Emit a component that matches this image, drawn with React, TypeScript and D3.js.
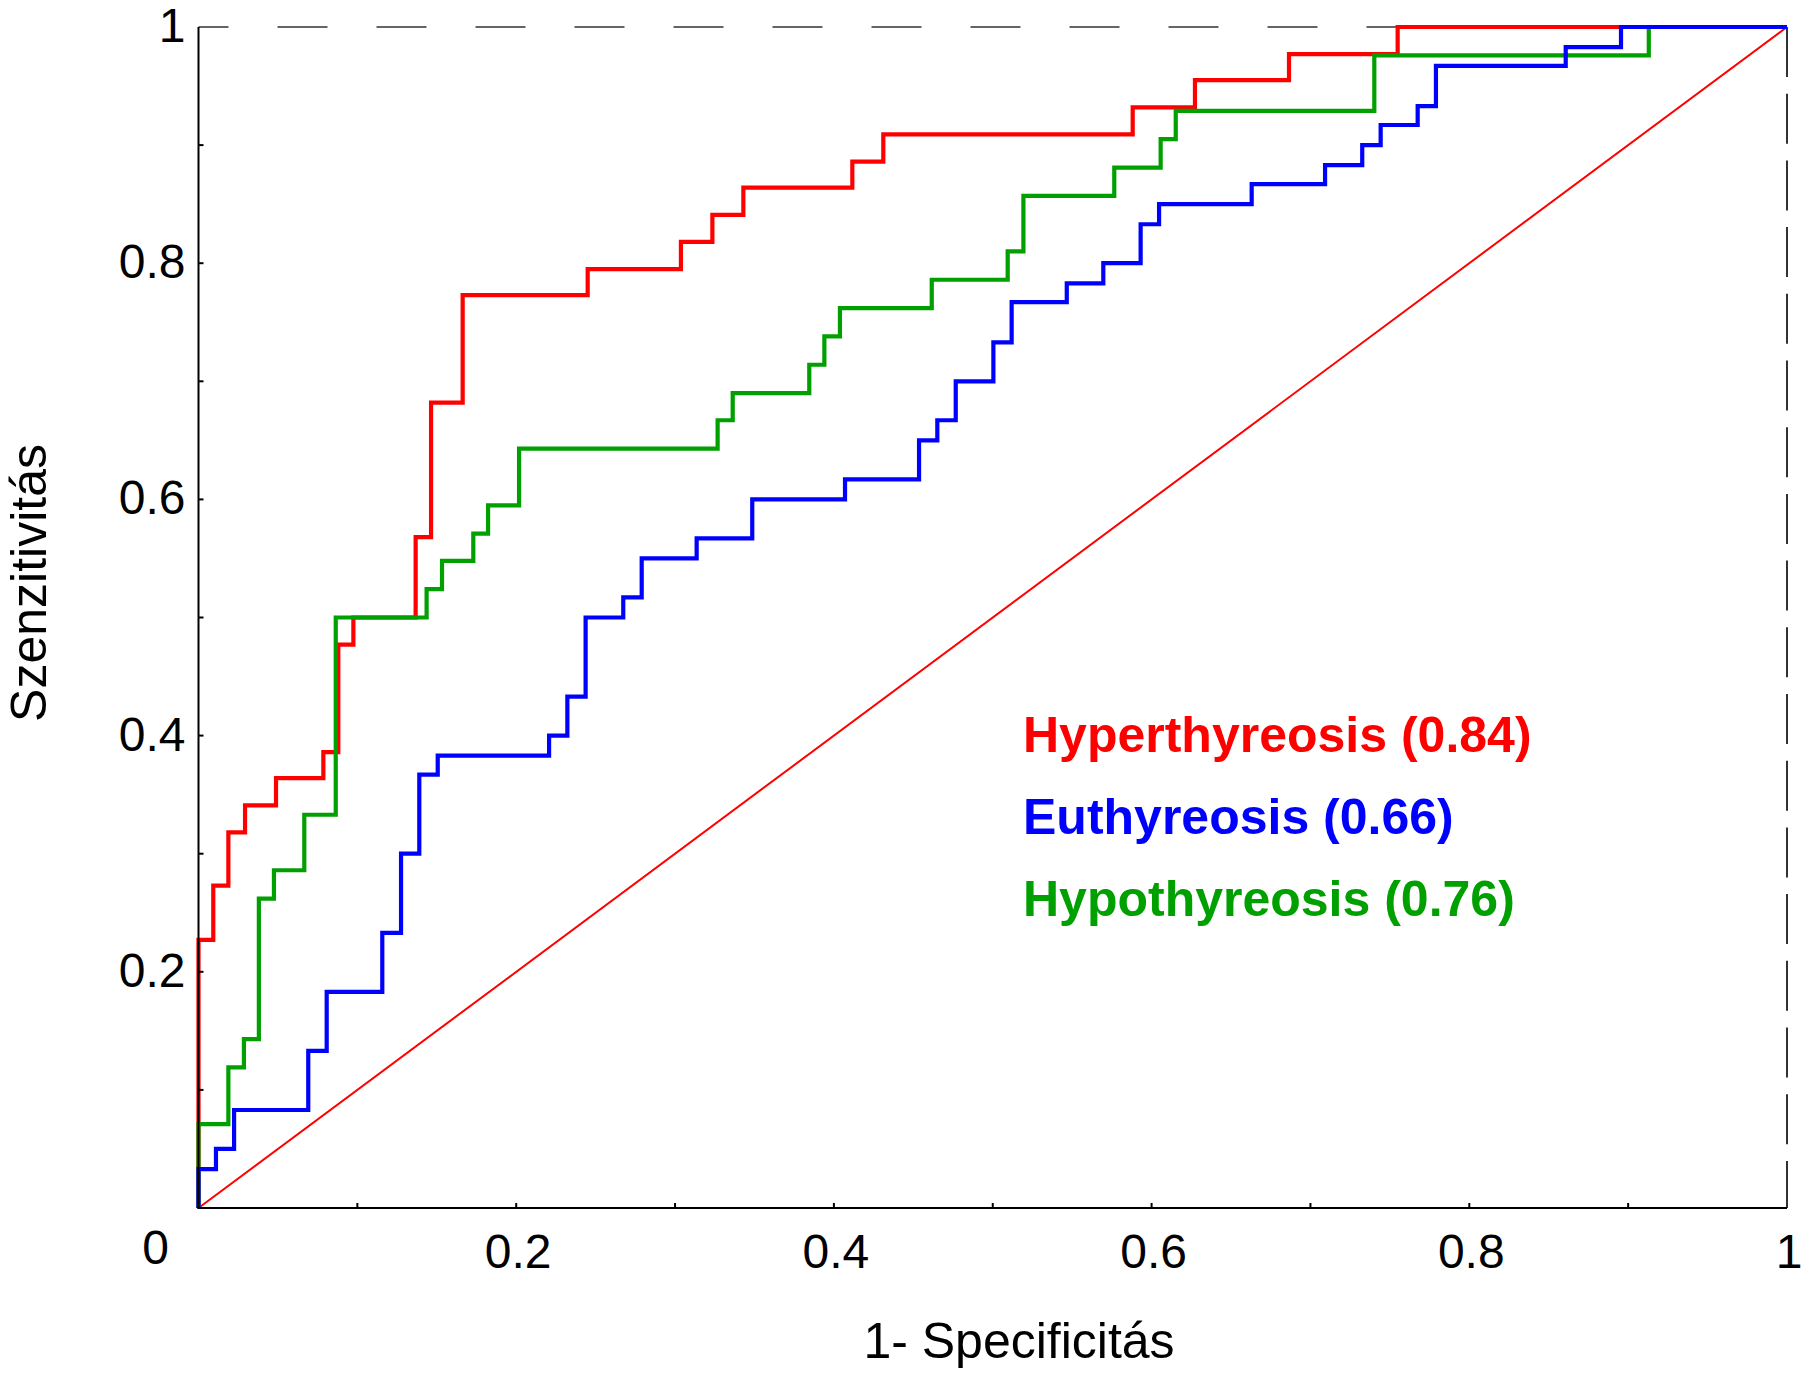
import React from "react";
import * as d3 from "d3";

// ---- Data ----
const hyperFpr = [0, 0.0093, 0.0188, 0.0293, 0.0488, 0.0786, 0.088, 0.0975, 0.1367, 0.1464, 0.1663, 0.245, 0.3037, 0.3235, 0.343, 0.4116, 0.4311, 0.5881, 0.6273, 0.6865, 0.7549];
const hyperTpr = [0.227, 0.273, 0.318, 0.341, 0.364, 0.386, 0.477, 0.5, 0.568, 0.682, 0.773, 0.795, 0.818, 0.841, 0.864, 0.886, 0.909, 0.932, 0.955, 0.977, 1.0];

const euFpr = [0, 0.011, 0.0224, 0.0691, 0.0807, 0.1157, 0.1275, 0.139, 0.1506, 0.2207, 0.2322, 0.2437, 0.2674, 0.279, 0.3136, 0.3486, 0.407, 0.4536, 0.4651, 0.4767, 0.5004, 0.5119, 0.5466, 0.5696, 0.5931, 0.6047, 0.663, 0.7092, 0.7326, 0.7442, 0.7675, 0.779, 0.8607, 0.8955];
const euTpr = [0.033, 0.05, 0.083, 0.133, 0.183, 0.233, 0.3, 0.367, 0.383, 0.4, 0.433, 0.5, 0.517, 0.55, 0.567, 0.6, 0.617, 0.65, 0.667, 0.7, 0.733, 0.767, 0.783, 0.8, 0.833, 0.85, 0.867, 0.883, 0.9, 0.917, 0.933, 0.967, 0.983, 1.0];

const hypoFpr = [0, 0.0188, 0.0286, 0.038, 0.0475, 0.0666, 0.0864, 0.1436, 0.1533, 0.173, 0.1823, 0.2018, 0.3268, 0.3363, 0.3845, 0.394, 0.4038, 0.4616, 0.5094, 0.5193, 0.5765, 0.6057, 0.6152, 0.7402, 0.913];
const hypoTpr = [0.071, 0.119, 0.143, 0.262, 0.286, 0.333, 0.5, 0.524, 0.548, 0.571, 0.595, 0.643, 0.667, 0.69, 0.714, 0.738, 0.762, 0.786, 0.81, 0.857, 0.881, 0.905, 0.929, 0.976, 1.0];

const seriesNames = ["Hyperthyreosis", "Euthyreosis", "Hypothyreosis"];
const seriesAuc = ["0.84", "0.66", "0.76"];
const seriesColors = ["#ff0000", "#0000ff", "#00a000"];

const tickValues = [0.2, 0.4, 0.6, 0.8, 1];
const tickLabels = ["0.2", "0.4", "0.6", "0.8", "1"];
const minorTicks = [0.1, 0.2, 0.3, 0.4, 0.5, 0.6, 0.7, 0.8, 0.9];

const xTitle = "1- Specificitás";
const yTitle = "Szenzitivitás";

const W = 1811;
const H = 1378;
const FONT = "Arial, 'Liberation Sans', Helvetica, sans-serif";

export default function App() {
  const x = d3.scaleLinear().domain([0, 1]).range([198.5, 1787]);
  const y = d3.scaleLinear().domain([0, 1]).range([1208, 27]);

  const line = d3
    .line<[number, number]>()
    .x((d) => x(d[0]))
    .y((d) => y(d[1]))
    .curve(d3.curveStepAfter);

  const build = (f: number[], t: number[]) => {
    const pts: [number, number][] = [[0, 0]];
    f.forEach((v, i) => pts.push([v, t[i]]));
    pts.push([1, 1]);
    return line(pts) || "";
  };

  const paths = [
    build(hyperFpr, hyperTpr),
    build(hypoFpr, hypoTpr),
    build(euFpr, euTpr),
  ];
  const pathColors = [seriesColors[0], seriesColors[2], seriesColors[1]];

  const x0 = x(0), x1 = x(1), y0 = y(0), y1 = y(1);

  return (
    <svg
      width={W}
      height={H}
      viewBox={`0 0 ${W} ${H}`}
      style={{ position: "absolute", left: 0, top: 0, background: "#fff" }}
      fontFamily={FONT}
    >
      <rect x={0} y={0} width={W} height={H} fill="#fff" />
      {/* frame: dashed top and right */}
      <line x1={x0} y1={y1} x2={x1} y2={y1} stroke="#333" strokeWidth={1.6} strokeDasharray="50 49" strokeDashoffset={20} />
      <line x1={x1} y1={y1} x2={x1} y2={y0} stroke="#000" strokeWidth={1.6} strokeDasharray="50 16.7" />
      {/* diagonal reference */}
      <line x1={x(0)} y1={y(0)} x2={x(1)} y2={y(1)} stroke="#ff0000" strokeWidth={2} />
      {/* ROC curves */}
      {paths.map((d, i) => (
        <path key={i} d={d} fill="none" stroke={pathColors[i]} strokeWidth={4.2} strokeLinejoin="miter" strokeLinecap="butt" />
      ))}
      {/* axes */}
      <line x1={x0} y1={y1} x2={x0} y2={y0 + 1} stroke="#000" strokeWidth={2} />
      <line x1={x0 - 1} y1={y0} x2={x1} y2={y0} stroke="#000" strokeWidth={2} />
      {minorTicks.map((v) => (
        <line key={"yt" + v} x1={x0} x2={x0 + 5} y1={y(v)} y2={y(v)} stroke="#000" strokeWidth={2} />
      ))}
      {minorTicks.map((v) => (
        <line key={"xt" + v} x1={x(v)} x2={x(v)} y1={y0} y2={y0 - 5} stroke="#000" strokeWidth={2} />
      ))}
      {/* tick labels */}
      {tickValues.map((v, i) => (
        <text key={"yl" + v} x={x0 - 13} y={y(v) + 15} fontSize={48} textAnchor="end" fill="#000">
          {tickLabels[i]}
        </text>
      ))}
      {tickValues.map((v, i) => (
        <text key={"xl" + v} x={x(v) + 2} y={y0 + 60} fontSize={48} textAnchor="middle" fill="#000">
          {tickLabels[i]}
        </text>
      ))}
      <text x={x0 - 43} y={y0 + 56} fontSize={48} textAnchor="middle" fill="#000">0</text>
      {/* axis titles */}
      <text x={1019} y={1358} fontSize={50} textAnchor="middle" fill="#000">{xTitle}</text>
      <text transform="translate(46,583) rotate(-90)" fontSize={50} textAnchor="middle" fill="#000">{yTitle}</text>
      {/* legend */}
      {seriesNames.map((n, i) => (
        <text key={n} x={1023} y={752 + i * 82} fontSize={50} fontWeight="bold" fill={seriesColors[i]}>
          {`${n} (${seriesAuc[i]})`}
        </text>
      ))}
    </svg>
  );
}
